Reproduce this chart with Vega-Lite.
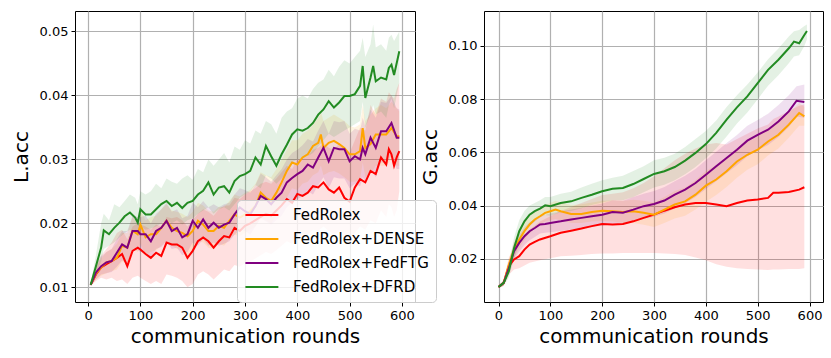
{
"$schema": "https://vega.github.io/schema/vega-lite/v6.json",
"padding": {"left": 10, "top": 10, "right": 5, "bottom": 5},
"bounds": "flush",
"spacing": 69,
"background": "white",
"datasets": {
"L": [
{"m":"FedRolex","r":5,"v":0.0104,"lo":0.0102,"hi":0.0106},
{"m":"FedRolex","r":15,"v":0.0120,"lo":0.0110,"hi":0.0135},
{"m":"FedRolex","r":25,"v":0.0131,"lo":0.0115,"hi":0.0150},
{"m":"FedRolex","r":35,"v":0.0136,"lo":0.0112,"hi":0.0160},
{"m":"FedRolex","r":45,"v":0.0141,"lo":0.0115,"hi":0.0170},
{"m":"FedRolex","r":55,"v":0.0146,"lo":0.0110,"hi":0.0185},
{"m":"FedRolex","r":65,"v":0.0152,"lo":0.0112,"hi":0.0190},
{"m":"FedRolex","r":75,"v":0.0133,"lo":0.0105,"hi":0.0175},
{"m":"FedRolex","r":85,"v":0.0157,"lo":0.0115,"hi":0.0195},
{"m":"FedRolex","r":95,"v":0.0162,"lo":0.0118,"hi":0.0200},
{"m":"FedRolex","r":100,"v":0.0159,"lo":0.0115,"hi":0.0198},
{"m":"FedRolex","r":110,"v":0.0152,"lo":0.0110,"hi":0.0195},
{"m":"FedRolex","r":120,"v":0.0146,"lo":0.0105,"hi":0.0190},
{"m":"FedRolex","r":130,"v":0.0154,"lo":0.0110,"hi":0.0198},
{"m":"FedRolex","r":140,"v":0.0149,"lo":0.0105,"hi":0.0195},
{"m":"FedRolex","r":150,"v":0.0170,"lo":0.0120,"hi":0.0210},
{"m":"FedRolex","r":160,"v":0.0167,"lo":0.0118,"hi":0.0208},
{"m":"FedRolex","r":170,"v":0.0167,"lo":0.0115,"hi":0.0210},
{"m":"FedRolex","r":180,"v":0.0162,"lo":0.0110,"hi":0.0205},
{"m":"FedRolex","r":190,"v":0.0146,"lo":0.0100,"hi":0.0195},
{"m":"FedRolex","r":200,"v":0.0157,"lo":0.0105,"hi":0.0205},
{"m":"FedRolex","r":210,"v":0.0172,"lo":0.0120,"hi":0.0215},
{"m":"FedRolex","r":220,"v":0.0178,"lo":0.0125,"hi":0.0222},
{"m":"FedRolex","r":230,"v":0.0172,"lo":0.0120,"hi":0.0218},
{"m":"FedRolex","r":240,"v":0.0162,"lo":0.0112,"hi":0.0212},
{"m":"FedRolex","r":250,"v":0.0172,"lo":0.0120,"hi":0.0222},
{"m":"FedRolex","r":260,"v":0.0180,"lo":0.0128,"hi":0.0228},
{"m":"FedRolex","r":270,"v":0.0178,"lo":0.0125,"hi":0.0228},
{"m":"FedRolex","r":280,"v":0.0193,"lo":0.0135,"hi":0.0240},
{"m":"FedRolex","r":290,"v":0.0188,"lo":0.0132,"hi":0.0238},
{"m":"FedRolex","r":300,"v":0.0196,"lo":0.0138,"hi":0.0245},
{"m":"FedRolex","r":310,"v":0.0200,"lo":0.0140,"hi":0.0250},
{"m":"FedRolex","r":320,"v":0.0205,"lo":0.0145,"hi":0.0255},
{"m":"FedRolex","r":330,"v":0.0210,"lo":0.0150,"hi":0.0262},
{"m":"FedRolex","r":340,"v":0.0215,"lo":0.0155,"hi":0.0265},
{"m":"FedRolex","r":350,"v":0.0212,"lo":0.0152,"hi":0.0262},
{"m":"FedRolex","r":360,"v":0.0220,"lo":0.0158,"hi":0.0270},
{"m":"FedRolex","r":370,"v":0.0228,"lo":0.0165,"hi":0.0280},
{"m":"FedRolex","r":380,"v":0.0238,"lo":0.0172,"hi":0.0290},
{"m":"FedRolex","r":390,"v":0.0232,"lo":0.0168,"hi":0.0285},
{"m":"FedRolex","r":400,"v":0.0246,"lo":0.0180,"hi":0.0300},
{"m":"FedRolex","r":410,"v":0.0243,"lo":0.0178,"hi":0.0300},
{"m":"FedRolex","r":420,"v":0.0248,"lo":0.0182,"hi":0.0305},
{"m":"FedRolex","r":430,"v":0.0258,"lo":0.0190,"hi":0.0315},
{"m":"FedRolex","r":440,"v":0.0256,"lo":0.0188,"hi":0.0318},
{"m":"FedRolex","r":450,"v":0.0264,"lo":0.0195,"hi":0.0325},
{"m":"FedRolex","r":460,"v":0.0253,"lo":0.0188,"hi":0.0318},
{"m":"FedRolex","r":470,"v":0.0248,"lo":0.0182,"hi":0.0315},
{"m":"FedRolex","r":480,"v":0.0256,"lo":0.0188,"hi":0.0325},
{"m":"FedRolex","r":490,"v":0.0240,"lo":0.0175,"hi":0.0315},
{"m":"FedRolex","r":500,"v":0.0234,"lo":0.0170,"hi":0.0310},
{"m":"FedRolex","r":510,"v":0.0256,"lo":0.0185,"hi":0.0330},
{"m":"FedRolex","r":520,"v":0.0269,"lo":0.0195,"hi":0.0350},
{"m":"FedRolex","r":530,"v":0.0264,"lo":0.0190,"hi":0.0345},
{"m":"FedRolex","r":540,"v":0.0282,"lo":0.0205,"hi":0.0385},
{"m":"FedRolex","r":550,"v":0.0277,"lo":0.0200,"hi":0.0370},
{"m":"FedRolex","r":560,"v":0.0303,"lo":0.0220,"hi":0.0395},
{"m":"FedRolex","r":570,"v":0.0292,"lo":0.0210,"hi":0.0390},
{"m":"FedRolex","r":575,"v":0.0316,"lo":0.0230,"hi":0.0405},
{"m":"FedRolex","r":580,"v":0.0308,"lo":0.0225,"hi":0.0400},
{"m":"FedRolex","r":585,"v":0.0290,"lo":0.0210,"hi":0.0395},
{"m":"FedRolex","r":590,"v":0.0303,"lo":0.0220,"hi":0.0410},
{"m":"FedRolex","r":595,"v":0.0313,"lo":0.0250,"hi":0.0420},
{"m":"FedRolex+DENSE","r":5,"v":0.0104,"lo":0.0102,"hi":0.0106},
{"m":"FedRolex+DENSE","r":15,"v":0.0121,"lo":0.0112,"hi":0.0130},
{"m":"FedRolex+DENSE","r":25,"v":0.0131,"lo":0.0118,"hi":0.0145},
{"m":"FedRolex+DENSE","r":35,"v":0.0139,"lo":0.0122,"hi":0.0155},
{"m":"FedRolex+DENSE","r":45,"v":0.0141,"lo":0.0125,"hi":0.0160},
{"m":"FedRolex+DENSE","r":55,"v":0.0146,"lo":0.0128,"hi":0.0168},
{"m":"FedRolex+DENSE","r":65,"v":0.0165,"lo":0.0140,"hi":0.0185},
{"m":"FedRolex+DENSE","r":75,"v":0.0162,"lo":0.0138,"hi":0.0185},
{"m":"FedRolex+DENSE","r":85,"v":0.0188,"lo":0.0160,"hi":0.0210},
{"m":"FedRolex+DENSE","r":95,"v":0.0183,"lo":0.0155,"hi":0.0205},
{"m":"FedRolex+DENSE","r":100,"v":0.0198,"lo":0.0168,"hi":0.0222},
{"m":"FedRolex+DENSE","r":110,"v":0.0178,"lo":0.0150,"hi":0.0205},
{"m":"FedRolex+DENSE","r":120,"v":0.0183,"lo":0.0155,"hi":0.0210},
{"m":"FedRolex+DENSE","r":130,"v":0.0183,"lo":0.0158,"hi":0.0212},
{"m":"FedRolex+DENSE","r":140,"v":0.0193,"lo":0.0165,"hi":0.0222},
{"m":"FedRolex+DENSE","r":150,"v":0.0204,"lo":0.0172,"hi":0.0230},
{"m":"FedRolex+DENSE","r":160,"v":0.0193,"lo":0.0165,"hi":0.0220},
{"m":"FedRolex+DENSE","r":170,"v":0.0188,"lo":0.0160,"hi":0.0218},
{"m":"FedRolex+DENSE","r":180,"v":0.0185,"lo":0.0158,"hi":0.0215},
{"m":"FedRolex+DENSE","r":190,"v":0.0180,"lo":0.0150,"hi":0.0210},
{"m":"FedRolex+DENSE","r":200,"v":0.0188,"lo":0.0160,"hi":0.0218},
{"m":"FedRolex+DENSE","r":210,"v":0.0204,"lo":0.0172,"hi":0.0232},
{"m":"FedRolex+DENSE","r":220,"v":0.0198,"lo":0.0170,"hi":0.0228},
{"m":"FedRolex+DENSE","r":230,"v":0.0188,"lo":0.0162,"hi":0.0220},
{"m":"FedRolex+DENSE","r":240,"v":0.0188,"lo":0.0160,"hi":0.0218},
{"m":"FedRolex+DENSE","r":250,"v":0.0196,"lo":0.0168,"hi":0.0226},
{"m":"FedRolex+DENSE","r":260,"v":0.0193,"lo":0.0165,"hi":0.0225},
{"m":"FedRolex+DENSE","r":270,"v":0.0204,"lo":0.0175,"hi":0.0235},
{"m":"FedRolex+DENSE","r":280,"v":0.0214,"lo":0.0182,"hi":0.0245},
{"m":"FedRolex+DENSE","r":290,"v":0.0209,"lo":0.0180,"hi":0.0242},
{"m":"FedRolex+DENSE","r":300,"v":0.0214,"lo":0.0185,"hi":0.0248},
{"m":"FedRolex+DENSE","r":310,"v":0.0219,"lo":0.0190,"hi":0.0252},
{"m":"FedRolex+DENSE","r":320,"v":0.0227,"lo":0.0195,"hi":0.0262},
{"m":"FedRolex+DENSE","r":330,"v":0.0248,"lo":0.0210,"hi":0.0280},
{"m":"FedRolex+DENSE","r":340,"v":0.0240,"lo":0.0205,"hi":0.0275},
{"m":"FedRolex+DENSE","r":350,"v":0.0235,"lo":0.0200,"hi":0.0272},
{"m":"FedRolex+DENSE","r":360,"v":0.0248,"lo":0.0212,"hi":0.0285},
{"m":"FedRolex+DENSE","r":370,"v":0.0264,"lo":0.0225,"hi":0.0300},
{"m":"FedRolex+DENSE","r":380,"v":0.0282,"lo":0.0240,"hi":0.0315},
{"m":"FedRolex+DENSE","r":390,"v":0.0295,"lo":0.0255,"hi":0.0330},
{"m":"FedRolex+DENSE","r":400,"v":0.0292,"lo":0.0252,"hi":0.0330},
{"m":"FedRolex+DENSE","r":410,"v":0.0303,"lo":0.0262,"hi":0.0340},
{"m":"FedRolex+DENSE","r":420,"v":0.0308,"lo":0.0265,"hi":0.0345},
{"m":"FedRolex+DENSE","r":430,"v":0.0321,"lo":0.0275,"hi":0.0355},
{"m":"FedRolex+DENSE","r":440,"v":0.0326,"lo":0.0280,"hi":0.0365},
{"m":"FedRolex+DENSE","r":445,"v":0.0339,"lo":0.0290,"hi":0.0375},
{"m":"FedRolex+DENSE","r":450,"v":0.0318,"lo":0.0275,"hi":0.0360},
{"m":"FedRolex+DENSE","r":460,"v":0.0326,"lo":0.0280,"hi":0.0365},
{"m":"FedRolex+DENSE","r":470,"v":0.0329,"lo":0.0282,"hi":0.0370},
{"m":"FedRolex+DENSE","r":480,"v":0.0324,"lo":0.0278,"hi":0.0365},
{"m":"FedRolex+DENSE","r":490,"v":0.0318,"lo":0.0272,"hi":0.0360},
{"m":"FedRolex+DENSE","r":500,"v":0.0308,"lo":0.0265,"hi":0.0352},
{"m":"FedRolex+DENSE","r":510,"v":0.0308,"lo":0.0265,"hi":0.0350},
{"m":"FedRolex+DENSE","r":520,"v":0.0313,"lo":0.0268,"hi":0.0355},
{"m":"FedRolex+DENSE","r":525,"v":0.0349,"lo":0.0295,"hi":0.0385},
{"m":"FedRolex+DENSE","r":530,"v":0.0318,"lo":0.0272,"hi":0.0360},
{"m":"FedRolex+DENSE","r":540,"v":0.0324,"lo":0.0278,"hi":0.0370},
{"m":"FedRolex+DENSE","r":550,"v":0.0339,"lo":0.0290,"hi":0.0380},
{"m":"FedRolex+DENSE","r":560,"v":0.0339,"lo":0.0290,"hi":0.0385},
{"m":"FedRolex+DENSE","r":570,"v":0.0339,"lo":0.0290,"hi":0.0380},
{"m":"FedRolex+DENSE","r":580,"v":0.0349,"lo":0.0300,"hi":0.0390},
{"m":"FedRolex+DENSE","r":590,"v":0.0336,"lo":0.0290,"hi":0.0380},
{"m":"FedRolex+DENSE","r":595,"v":0.0336,"lo":0.0290,"hi":0.0375},
{"m":"FedRolex+FedFTG","r":5,"v":0.0104,"lo":0.0102,"hi":0.0106},
{"m":"FedRolex+FedFTG","r":15,"v":0.0123,"lo":0.0112,"hi":0.0132},
{"m":"FedRolex+FedFTG","r":25,"v":0.0133,"lo":0.0120,"hi":0.0148},
{"m":"FedRolex+FedFTG","r":35,"v":0.0139,"lo":0.0122,"hi":0.0155},
{"m":"FedRolex+FedFTG","r":45,"v":0.0141,"lo":0.0124,"hi":0.0160},
{"m":"FedRolex+FedFTG","r":55,"v":0.0154,"lo":0.0132,"hi":0.0175},
{"m":"FedRolex+FedFTG","r":65,"v":0.0167,"lo":0.0142,"hi":0.0188},
{"m":"FedRolex+FedFTG","r":75,"v":0.0162,"lo":0.0138,"hi":0.0188},
{"m":"FedRolex+FedFTG","r":85,"v":0.0188,"lo":0.0158,"hi":0.0212},
{"m":"FedRolex+FedFTG","r":95,"v":0.0188,"lo":0.0158,"hi":0.0210},
{"m":"FedRolex+FedFTG","r":100,"v":0.0183,"lo":0.0155,"hi":0.0210},
{"m":"FedRolex+FedFTG","r":110,"v":0.0183,"lo":0.0155,"hi":0.0212},
{"m":"FedRolex+FedFTG","r":120,"v":0.0172,"lo":0.0145,"hi":0.0200},
{"m":"FedRolex+FedFTG","r":130,"v":0.0188,"lo":0.0160,"hi":0.0215},
{"m":"FedRolex+FedFTG","r":140,"v":0.0193,"lo":0.0163,"hi":0.0222},
{"m":"FedRolex+FedFTG","r":150,"v":0.0204,"lo":0.0172,"hi":0.0232},
{"m":"FedRolex+FedFTG","r":160,"v":0.0188,"lo":0.0160,"hi":0.0218},
{"m":"FedRolex+FedFTG","r":170,"v":0.0193,"lo":0.0162,"hi":0.0222},
{"m":"FedRolex+FedFTG","r":180,"v":0.0178,"lo":0.0150,"hi":0.0208},
{"m":"FedRolex+FedFTG","r":190,"v":0.0183,"lo":0.0155,"hi":0.0212},
{"m":"FedRolex+FedFTG","r":200,"v":0.0204,"lo":0.0170,"hi":0.0232},
{"m":"FedRolex+FedFTG","r":210,"v":0.0193,"lo":0.0165,"hi":0.0225},
{"m":"FedRolex+FedFTG","r":220,"v":0.0206,"lo":0.0175,"hi":0.0235},
{"m":"FedRolex+FedFTG","r":230,"v":0.0193,"lo":0.0165,"hi":0.0225},
{"m":"FedRolex+FedFTG","r":240,"v":0.0201,"lo":0.0170,"hi":0.0230},
{"m":"FedRolex+FedFTG","r":250,"v":0.0193,"lo":0.0165,"hi":0.0225},
{"m":"FedRolex+FedFTG","r":260,"v":0.0198,"lo":0.0168,"hi":0.0230},
{"m":"FedRolex+FedFTG","r":270,"v":0.0201,"lo":0.0172,"hi":0.0232},
{"m":"FedRolex+FedFTG","r":280,"v":0.0214,"lo":0.0182,"hi":0.0245},
{"m":"FedRolex+FedFTG","r":290,"v":0.0225,"lo":0.0190,"hi":0.0255},
{"m":"FedRolex+FedFTG","r":300,"v":0.0219,"lo":0.0188,"hi":0.0252},
{"m":"FedRolex+FedFTG","r":310,"v":0.0214,"lo":0.0182,"hi":0.0248},
{"m":"FedRolex+FedFTG","r":320,"v":0.0227,"lo":0.0195,"hi":0.0260},
{"m":"FedRolex+FedFTG","r":330,"v":0.0243,"lo":0.0208,"hi":0.0278},
{"m":"FedRolex+FedFTG","r":340,"v":0.0238,"lo":0.0203,"hi":0.0272},
{"m":"FedRolex+FedFTG","r":350,"v":0.0230,"lo":0.0198,"hi":0.0265},
{"m":"FedRolex+FedFTG","r":360,"v":0.0240,"lo":0.0205,"hi":0.0275},
{"m":"FedRolex+FedFTG","r":370,"v":0.0248,"lo":0.0212,"hi":0.0285},
{"m":"FedRolex+FedFTG","r":380,"v":0.0264,"lo":0.0225,"hi":0.0300},
{"m":"FedRolex+FedFTG","r":390,"v":0.0271,"lo":0.0232,"hi":0.0310},
{"m":"FedRolex+FedFTG","r":400,"v":0.0277,"lo":0.0238,"hi":0.0315},
{"m":"FedRolex+FedFTG","r":410,"v":0.0282,"lo":0.0242,"hi":0.0322},
{"m":"FedRolex+FedFTG","r":420,"v":0.0292,"lo":0.0250,"hi":0.0332},
{"m":"FedRolex+FedFTG","r":430,"v":0.0287,"lo":0.0245,"hi":0.0328},
{"m":"FedRolex+FedFTG","r":440,"v":0.0303,"lo":0.0260,"hi":0.0345},
{"m":"FedRolex+FedFTG","r":450,"v":0.0318,"lo":0.0272,"hi":0.0360},
{"m":"FedRolex+FedFTG","r":460,"v":0.0297,"lo":0.0255,"hi":0.0340},
{"m":"FedRolex+FedFTG","r":470,"v":0.0318,"lo":0.0272,"hi":0.0360},
{"m":"FedRolex+FedFTG","r":480,"v":0.0316,"lo":0.0270,"hi":0.0358},
{"m":"FedRolex+FedFTG","r":490,"v":0.0316,"lo":0.0270,"hi":0.0360},
{"m":"FedRolex+FedFTG","r":500,"v":0.0297,"lo":0.0255,"hi":0.0340},
{"m":"FedRolex+FedFTG","r":510,"v":0.0305,"lo":0.0262,"hi":0.0348},
{"m":"FedRolex+FedFTG","r":520,"v":0.0300,"lo":0.0258,"hi":0.0345},
{"m":"FedRolex+FedFTG","r":525,"v":0.0318,"lo":0.0272,"hi":0.0365},
{"m":"FedRolex+FedFTG","r":530,"v":0.0308,"lo":0.0265,"hi":0.0352},
{"m":"FedRolex+FedFTG","r":540,"v":0.0334,"lo":0.0285,"hi":0.0378},
{"m":"FedRolex+FedFTG","r":550,"v":0.0318,"lo":0.0272,"hi":0.0365},
{"m":"FedRolex+FedFTG","r":560,"v":0.0344,"lo":0.0295,"hi":0.0390},
{"m":"FedRolex+FedFTG","r":570,"v":0.0344,"lo":0.0295,"hi":0.0388},
{"m":"FedRolex+FedFTG","r":580,"v":0.0357,"lo":0.0305,"hi":0.0400},
{"m":"FedRolex+FedFTG","r":590,"v":0.0334,"lo":0.0285,"hi":0.0380},
{"m":"FedRolex+FedFTG","r":595,"v":0.0334,"lo":0.0285,"hi":0.0378},
{"m":"FedRolex+DFRD","r":5,"v":0.0104,"lo":0.0102,"hi":0.0106},
{"m":"FedRolex+DFRD","r":15,"v":0.0133,"lo":0.0122,"hi":0.0150},
{"m":"FedRolex+DFRD","r":25,"v":0.0162,"lo":0.0140,"hi":0.0200},
{"m":"FedRolex+DFRD","r":30,"v":0.0189,"lo":0.0160,"hi":0.0215},
{"m":"FedRolex+DFRD","r":40,"v":0.0183,"lo":0.0165,"hi":0.0205},
{"m":"FedRolex+DFRD","r":50,"v":0.0193,"lo":0.0170,"hi":0.0230},
{"m":"FedRolex+DFRD","r":60,"v":0.0201,"lo":0.0178,"hi":0.0225},
{"m":"FedRolex+DFRD","r":70,"v":0.0211,"lo":0.0185,"hi":0.0235},
{"m":"FedRolex+DFRD","r":80,"v":0.0217,"lo":0.0190,"hi":0.0245},
{"m":"FedRolex+DFRD","r":90,"v":0.0209,"lo":0.0185,"hi":0.0240},
{"m":"FedRolex+DFRD","r":95,"v":0.0201,"lo":0.0180,"hi":0.0230},
{"m":"FedRolex+DFRD","r":100,"v":0.0222,"lo":0.0195,"hi":0.0250},
{"m":"FedRolex+DFRD","r":110,"v":0.0214,"lo":0.0190,"hi":0.0245},
{"m":"FedRolex+DFRD","r":120,"v":0.0214,"lo":0.0192,"hi":0.0250},
{"m":"FedRolex+DFRD","r":130,"v":0.0222,"lo":0.0195,"hi":0.0262},
{"m":"FedRolex+DFRD","r":140,"v":0.0230,"lo":0.0200,"hi":0.0255},
{"m":"FedRolex+DFRD","r":150,"v":0.0235,"lo":0.0205,"hi":0.0270},
{"m":"FedRolex+DFRD","r":160,"v":0.0227,"lo":0.0200,"hi":0.0265},
{"m":"FedRolex+DFRD","r":170,"v":0.0232,"lo":0.0205,"hi":0.0262},
{"m":"FedRolex+DFRD","r":180,"v":0.0224,"lo":0.0198,"hi":0.0270},
{"m":"FedRolex+DFRD","r":190,"v":0.0232,"lo":0.0205,"hi":0.0275},
{"m":"FedRolex+DFRD","r":200,"v":0.0235,"lo":0.0208,"hi":0.0268},
{"m":"FedRolex+DFRD","r":210,"v":0.0245,"lo":0.0215,"hi":0.0285},
{"m":"FedRolex+DFRD","r":220,"v":0.0251,"lo":0.0220,"hi":0.0280},
{"m":"FedRolex+DFRD","r":230,"v":0.0264,"lo":0.0225,"hi":0.0300},
{"m":"FedRolex+DFRD","r":240,"v":0.0245,"lo":0.0215,"hi":0.0290},
{"m":"FedRolex+DFRD","r":250,"v":0.0256,"lo":0.0222,"hi":0.0300},
{"m":"FedRolex+DFRD","r":260,"v":0.0258,"lo":0.0225,"hi":0.0310},
{"m":"FedRolex+DFRD","r":270,"v":0.0248,"lo":0.0220,"hi":0.0295},
{"m":"FedRolex+DFRD","r":280,"v":0.0266,"lo":0.0230,"hi":0.0320},
{"m":"FedRolex+DFRD","r":290,"v":0.0274,"lo":0.0240,"hi":0.0315},
{"m":"FedRolex+DFRD","r":300,"v":0.0277,"lo":0.0245,"hi":0.0330},
{"m":"FedRolex+DFRD","r":310,"v":0.0282,"lo":0.0250,"hi":0.0325},
{"m":"FedRolex+DFRD","r":320,"v":0.0303,"lo":0.0260,"hi":0.0345},
{"m":"FedRolex+DFRD","r":330,"v":0.0292,"lo":0.0255,"hi":0.0340},
{"m":"FedRolex+DFRD","r":340,"v":0.0321,"lo":0.0275,"hi":0.0360},
{"m":"FedRolex+DFRD","r":350,"v":0.0305,"lo":0.0270,"hi":0.0355},
{"m":"FedRolex+DFRD","r":360,"v":0.0290,"lo":0.0262,"hi":0.0340},
{"m":"FedRolex+DFRD","r":370,"v":0.0308,"lo":0.0270,"hi":0.0365},
{"m":"FedRolex+DFRD","r":380,"v":0.0323,"lo":0.0280,"hi":0.0375},
{"m":"FedRolex+DFRD","r":390,"v":0.0339,"lo":0.0295,"hi":0.0380},
{"m":"FedRolex+DFRD","r":400,"v":0.0347,"lo":0.0300,"hi":0.0395},
{"m":"FedRolex+DFRD","r":410,"v":0.0345,"lo":0.0300,"hi":0.0400},
{"m":"FedRolex+DFRD","r":420,"v":0.0349,"lo":0.0305,"hi":0.0395},
{"m":"FedRolex+DFRD","r":430,"v":0.0357,"lo":0.0310,"hi":0.0410},
{"m":"FedRolex+DFRD","r":440,"v":0.0370,"lo":0.0320,"hi":0.0420},
{"m":"FedRolex+DFRD","r":450,"v":0.0378,"lo":0.0330,"hi":0.0425},
{"m":"FedRolex+DFRD","r":460,"v":0.0391,"lo":0.0340,"hi":0.0440},
{"m":"FedRolex+DFRD","r":470,"v":0.0381,"lo":0.0335,"hi":0.0430},
{"m":"FedRolex+DFRD","r":480,"v":0.0389,"lo":0.0340,"hi":0.0445},
{"m":"FedRolex+DFRD","r":490,"v":0.0399,"lo":0.0345,"hi":0.0455},
{"m":"FedRolex+DFRD","r":500,"v":0.0399,"lo":0.0350,"hi":0.0450},
{"m":"FedRolex+DFRD","r":510,"v":0.0402,"lo":0.0355,"hi":0.0460},
{"m":"FedRolex+DFRD","r":520,"v":0.0415,"lo":0.0360,"hi":0.0470},
{"m":"FedRolex+DFRD","r":525,"v":0.0446,"lo":0.0390,"hi":0.0490},
{"m":"FedRolex+DFRD","r":530,"v":0.0396,"lo":0.0350,"hi":0.0460},
{"m":"FedRolex+DFRD","r":540,"v":0.0428,"lo":0.0370,"hi":0.0480},
{"m":"FedRolex+DFRD","r":545,"v":0.0446,"lo":0.0385,"hi":0.0511},
{"m":"FedRolex+DFRD","r":550,"v":0.0422,"lo":0.0370,"hi":0.0475},
{"m":"FedRolex+DFRD","r":560,"v":0.0428,"lo":0.0375,"hi":0.0480},
{"m":"FedRolex+DFRD","r":570,"v":0.0425,"lo":0.0365,"hi":0.0470},
{"m":"FedRolex+DFRD","r":575,"v":0.0443,"lo":0.0385,"hi":0.0490},
{"m":"FedRolex+DFRD","r":580,"v":0.0448,"lo":0.0395,"hi":0.0495},
{"m":"FedRolex+DFRD","r":585,"v":0.0432,"lo":0.0380,"hi":0.0485},
{"m":"FedRolex+DFRD","r":595,"v":0.0469,"lo":0.0420,"hi":0.0500}
],
"G": [
{"m":"FedRolex","r":0,"v":0.0094,"lo":0.0090,"hi":0.0098},
{"m":"FedRolex","r":10,"v":0.0110,"lo":0.0098,"hi":0.0122},
{"m":"FedRolex","r":20,"v":0.0173,"lo":0.0140,"hi":0.0205},
{"m":"FedRolex","r":30,"v":0.0198,"lo":0.0160,"hi":0.0240},
{"m":"FedRolex","r":40,"v":0.0210,"lo":0.0165,"hi":0.0262},
{"m":"FedRolex","r":50,"v":0.0235,"lo":0.0175,"hi":0.0290},
{"m":"FedRolex","r":60,"v":0.0254,"lo":0.0185,"hi":0.0310},
{"m":"FedRolex","r":70,"v":0.0264,"lo":0.0190,"hi":0.0325},
{"m":"FedRolex","r":80,"v":0.0273,"lo":0.0195,"hi":0.0340},
{"m":"FedRolex","r":100,"v":0.0285,"lo":0.0202,"hi":0.0360},
{"m":"FedRolex","r":120,"v":0.0298,"lo":0.0210,"hi":0.0380},
{"m":"FedRolex","r":140,"v":0.0306,"lo":0.0212,"hi":0.0395},
{"m":"FedRolex","r":160,"v":0.0314,"lo":0.0215,"hi":0.0410},
{"m":"FedRolex","r":180,"v":0.0323,"lo":0.0218,"hi":0.0425},
{"m":"FedRolex","r":200,"v":0.0331,"lo":0.0220,"hi":0.0440},
{"m":"FedRolex","r":220,"v":0.0329,"lo":0.0220,"hi":0.0445},
{"m":"FedRolex","r":240,"v":0.0331,"lo":0.0222,"hi":0.0450},
{"m":"FedRolex","r":260,"v":0.0341,"lo":0.0222,"hi":0.0465},
{"m":"FedRolex","r":280,"v":0.0354,"lo":0.0222,"hi":0.0485},
{"m":"FedRolex","r":300,"v":0.0366,"lo":0.0222,"hi":0.0510},
{"m":"FedRolex","r":320,"v":0.0381,"lo":0.0220,"hi":0.0540},
{"m":"FedRolex","r":340,"v":0.0394,"lo":0.0218,"hi":0.0570},
{"m":"FedRolex","r":360,"v":0.0404,"lo":0.0215,"hi":0.0595},
{"m":"FedRolex","r":380,"v":0.0410,"lo":0.0205,"hi":0.0615},
{"m":"FedRolex","r":400,"v":0.0410,"lo":0.0195,"hi":0.0630},
{"m":"FedRolex","r":420,"v":0.0404,"lo":0.0180,"hi":0.0635},
{"m":"FedRolex","r":440,"v":0.0398,"lo":0.0170,"hi":0.0630},
{"m":"FedRolex","r":460,"v":0.0410,"lo":0.0165,"hi":0.0650},
{"m":"FedRolex","r":480,"v":0.0419,"lo":0.0162,"hi":0.0670},
{"m":"FedRolex","r":500,"v":0.0423,"lo":0.0160,"hi":0.0690},
{"m":"FedRolex","r":520,"v":0.0429,"lo":0.0158,"hi":0.0705},
{"m":"FedRolex","r":530,"v":0.0448,"lo":0.0160,"hi":0.0725},
{"m":"FedRolex","r":540,"v":0.0448,"lo":0.0160,"hi":0.0735},
{"m":"FedRolex","r":560,"v":0.0451,"lo":0.0162,"hi":0.0755},
{"m":"FedRolex","r":580,"v":0.0460,"lo":0.0162,"hi":0.0775},
{"m":"FedRolex","r":590,"v":0.0469,"lo":0.0165,"hi":0.0780},
{"m":"FedRolex+DENSE","r":0,"v":0.0094,"lo":0.0090,"hi":0.0098},
{"m":"FedRolex+DENSE","r":10,"v":0.0110,"lo":0.0100,"hi":0.0120},
{"m":"FedRolex+DENSE","r":20,"v":0.0179,"lo":0.0155,"hi":0.0200},
{"m":"FedRolex+DENSE","r":30,"v":0.0235,"lo":0.0205,"hi":0.0265},
{"m":"FedRolex+DENSE","r":40,"v":0.0273,"lo":0.0240,"hi":0.0305},
{"m":"FedRolex+DENSE","r":50,"v":0.0304,"lo":0.0270,"hi":0.0335},
{"m":"FedRolex+DENSE","r":60,"v":0.0329,"lo":0.0295,"hi":0.0360},
{"m":"FedRolex+DENSE","r":70,"v":0.0348,"lo":0.0315,"hi":0.0378},
{"m":"FedRolex+DENSE","r":80,"v":0.0360,"lo":0.0328,"hi":0.0390},
{"m":"FedRolex+DENSE","r":90,"v":0.0373,"lo":0.0340,"hi":0.0402},
{"m":"FedRolex+DENSE","r":100,"v":0.0379,"lo":0.0345,"hi":0.0410},
{"m":"FedRolex+DENSE","r":110,"v":0.0385,"lo":0.0350,"hi":0.0418},
{"m":"FedRolex+DENSE","r":120,"v":0.0379,"lo":0.0345,"hi":0.0412},
{"m":"FedRolex+DENSE","r":140,"v":0.0369,"lo":0.0335,"hi":0.0402},
{"m":"FedRolex+DENSE","r":160,"v":0.0369,"lo":0.0335,"hi":0.0405},
{"m":"FedRolex+DENSE","r":180,"v":0.0376,"lo":0.0340,"hi":0.0412},
{"m":"FedRolex+DENSE","r":200,"v":0.0381,"lo":0.0342,"hi":0.0418},
{"m":"FedRolex+DENSE","r":220,"v":0.0379,"lo":0.0340,"hi":0.0420},
{"m":"FedRolex+DENSE","r":240,"v":0.0376,"lo":0.0335,"hi":0.0418},
{"m":"FedRolex+DENSE","r":260,"v":0.0379,"lo":0.0335,"hi":0.0422},
{"m":"FedRolex+DENSE","r":280,"v":0.0373,"lo":0.0328,"hi":0.0418},
{"m":"FedRolex+DENSE","r":300,"v":0.0366,"lo":0.0320,"hi":0.0412},
{"m":"FedRolex+DENSE","r":320,"v":0.0385,"lo":0.0335,"hi":0.0432},
{"m":"FedRolex+DENSE","r":340,"v":0.0404,"lo":0.0352,"hi":0.0455},
{"m":"FedRolex+DENSE","r":360,"v":0.0416,"lo":0.0362,"hi":0.0468},
{"m":"FedRolex+DENSE","r":380,"v":0.0441,"lo":0.0385,"hi":0.0495},
{"m":"FedRolex+DENSE","r":400,"v":0.0475,"lo":0.0415,"hi":0.0530},
{"m":"FedRolex+DENSE","r":420,"v":0.0498,"lo":0.0440,"hi":0.0552},
{"m":"FedRolex+DENSE","r":440,"v":0.0529,"lo":0.0470,"hi":0.0580},
{"m":"FedRolex+DENSE","r":460,"v":0.0566,"lo":0.0505,"hi":0.0615},
{"m":"FedRolex+DENSE","r":480,"v":0.0591,"lo":0.0535,"hi":0.0640},
{"m":"FedRolex+DENSE","r":500,"v":0.0610,"lo":0.0555,"hi":0.0660},
{"m":"FedRolex+DENSE","r":520,"v":0.0641,"lo":0.0588,"hi":0.0690},
{"m":"FedRolex+DENSE","r":540,"v":0.0666,"lo":0.0615,"hi":0.0712},
{"m":"FedRolex+DENSE","r":560,"v":0.0704,"lo":0.0655,"hi":0.0748},
{"m":"FedRolex+DENSE","r":580,"v":0.0748,"lo":0.0700,"hi":0.0785},
{"m":"FedRolex+DENSE","r":590,"v":0.0735,"lo":0.0700,"hi":0.0770},
{"m":"FedRolex+FedFTG","r":0,"v":0.0094,"lo":0.0090,"hi":0.0098},
{"m":"FedRolex+FedFTG","r":10,"v":0.0110,"lo":0.0100,"hi":0.0120},
{"m":"FedRolex+FedFTG","r":20,"v":0.0166,"lo":0.0145,"hi":0.0190},
{"m":"FedRolex+FedFTG","r":30,"v":0.0229,"lo":0.0200,"hi":0.0260},
{"m":"FedRolex+FedFTG","r":40,"v":0.0260,"lo":0.0228,"hi":0.0292},
{"m":"FedRolex+FedFTG","r":50,"v":0.0285,"lo":0.0252,"hi":0.0318},
{"m":"FedRolex+FedFTG","r":60,"v":0.0304,"lo":0.0270,"hi":0.0338},
{"m":"FedRolex+FedFTG","r":70,"v":0.0316,"lo":0.0282,"hi":0.0350},
{"m":"FedRolex+FedFTG","r":80,"v":0.0329,"lo":0.0295,"hi":0.0362},
{"m":"FedRolex+FedFTG","r":90,"v":0.0331,"lo":0.0298,"hi":0.0365},
{"m":"FedRolex+FedFTG","r":100,"v":0.0335,"lo":0.0300,"hi":0.0370},
{"m":"FedRolex+FedFTG","r":120,"v":0.0341,"lo":0.0305,"hi":0.0378},
{"m":"FedRolex+FedFTG","r":140,"v":0.0348,"lo":0.0310,"hi":0.0385},
{"m":"FedRolex+FedFTG","r":160,"v":0.0354,"lo":0.0315,"hi":0.0392},
{"m":"FedRolex+FedFTG","r":180,"v":0.0360,"lo":0.0320,"hi":0.0400},
{"m":"FedRolex+FedFTG","r":200,"v":0.0366,"lo":0.0325,"hi":0.0408},
{"m":"FedRolex+FedFTG","r":220,"v":0.0376,"lo":0.0333,"hi":0.0420},
{"m":"FedRolex+FedFTG","r":240,"v":0.0373,"lo":0.0330,"hi":0.0418},
{"m":"FedRolex+FedFTG","r":260,"v":0.0385,"lo":0.0340,"hi":0.0432},
{"m":"FedRolex+FedFTG","r":280,"v":0.0398,"lo":0.0350,"hi":0.0445},
{"m":"FedRolex+FedFTG","r":300,"v":0.0406,"lo":0.0358,"hi":0.0455},
{"m":"FedRolex+FedFTG","r":320,"v":0.0419,"lo":0.0370,"hi":0.0470},
{"m":"FedRolex+FedFTG","r":340,"v":0.0441,"lo":0.0390,"hi":0.0492},
{"m":"FedRolex+FedFTG","r":360,"v":0.0460,"lo":0.0408,"hi":0.0512},
{"m":"FedRolex+FedFTG","r":380,"v":0.0485,"lo":0.0432,"hi":0.0538},
{"m":"FedRolex+FedFTG","r":400,"v":0.0516,"lo":0.0462,"hi":0.0570},
{"m":"FedRolex+FedFTG","r":420,"v":0.0548,"lo":0.0492,"hi":0.0602},
{"m":"FedRolex+FedFTG","r":440,"v":0.0579,"lo":0.0522,"hi":0.0635},
{"m":"FedRolex+FedFTG","r":460,"v":0.0610,"lo":0.0552,"hi":0.0665},
{"m":"FedRolex+FedFTG","r":480,"v":0.0644,"lo":0.0585,"hi":0.0700},
{"m":"FedRolex+FedFTG","r":500,"v":0.0666,"lo":0.0608,"hi":0.0722},
{"m":"FedRolex+FedFTG","r":520,"v":0.0685,"lo":0.0628,"hi":0.0745},
{"m":"FedRolex+FedFTG","r":540,"v":0.0716,"lo":0.0658,"hi":0.0778},
{"m":"FedRolex+FedFTG","r":560,"v":0.0754,"lo":0.0695,"hi":0.0815},
{"m":"FedRolex+FedFTG","r":575,"v":0.0794,"lo":0.0735,"hi":0.0848},
{"m":"FedRolex+FedFTG","r":590,"v":0.0789,"lo":0.0730,"hi":0.0855},
{"m":"FedRolex+DFRD","r":0,"v":0.0094,"lo":0.0090,"hi":0.0098},
{"m":"FedRolex+DFRD","r":10,"v":0.0110,"lo":0.0100,"hi":0.0120},
{"m":"FedRolex+DFRD","r":20,"v":0.0154,"lo":0.0130,"hi":0.0180},
{"m":"FedRolex+DFRD","r":30,"v":0.0241,"lo":0.0200,"hi":0.0280},
{"m":"FedRolex+DFRD","r":40,"v":0.0304,"lo":0.0260,"hi":0.0345},
{"m":"FedRolex+DFRD","r":50,"v":0.0341,"lo":0.0300,"hi":0.0380},
{"m":"FedRolex+DFRD","r":60,"v":0.0366,"lo":0.0325,"hi":0.0400},
{"m":"FedRolex+DFRD","r":70,"v":0.0379,"lo":0.0340,"hi":0.0410},
{"m":"FedRolex+DFRD","r":80,"v":0.0389,"lo":0.0355,"hi":0.0420},
{"m":"FedRolex+DFRD","r":90,"v":0.0401,"lo":0.0365,"hi":0.0432},
{"m":"FedRolex+DFRD","r":100,"v":0.0398,"lo":0.0362,"hi":0.0432},
{"m":"FedRolex+DFRD","r":120,"v":0.0410,"lo":0.0375,"hi":0.0445},
{"m":"FedRolex+DFRD","r":140,"v":0.0416,"lo":0.0380,"hi":0.0452},
{"m":"FedRolex+DFRD","r":160,"v":0.0429,"lo":0.0390,"hi":0.0468},
{"m":"FedRolex+DFRD","r":180,"v":0.0441,"lo":0.0402,"hi":0.0482},
{"m":"FedRolex+DFRD","r":200,"v":0.0454,"lo":0.0412,"hi":0.0495},
{"m":"FedRolex+DFRD","r":220,"v":0.0463,"lo":0.0420,"hi":0.0505},
{"m":"FedRolex+DFRD","r":240,"v":0.0466,"lo":0.0420,"hi":0.0512},
{"m":"FedRolex+DFRD","r":260,"v":0.0481,"lo":0.0432,"hi":0.0530},
{"m":"FedRolex+DFRD","r":280,"v":0.0500,"lo":0.0450,"hi":0.0548},
{"m":"FedRolex+DFRD","r":300,"v":0.0519,"lo":0.0468,"hi":0.0570},
{"m":"FedRolex+DFRD","r":320,"v":0.0529,"lo":0.0478,"hi":0.0580},
{"m":"FedRolex+DFRD","r":340,"v":0.0545,"lo":0.0495,"hi":0.0595},
{"m":"FedRolex+DFRD","r":360,"v":0.0569,"lo":0.0518,"hi":0.0620},
{"m":"FedRolex+DFRD","r":380,"v":0.0598,"lo":0.0545,"hi":0.0650},
{"m":"FedRolex+DFRD","r":400,"v":0.0631,"lo":0.0578,"hi":0.0680},
{"m":"FedRolex+DFRD","r":420,"v":0.0673,"lo":0.0615,"hi":0.0720},
{"m":"FedRolex+DFRD","r":440,"v":0.0723,"lo":0.0660,"hi":0.0770},
{"m":"FedRolex+DFRD","r":460,"v":0.0769,"lo":0.0708,"hi":0.0815},
{"m":"FedRolex+DFRD","r":480,"v":0.0810,"lo":0.0750,"hi":0.0855},
{"m":"FedRolex+DFRD","r":500,"v":0.0860,"lo":0.0800,"hi":0.0900},
{"m":"FedRolex+DFRD","r":520,"v":0.0910,"lo":0.0850,"hi":0.0950},
{"m":"FedRolex+DFRD","r":540,"v":0.0948,"lo":0.0890,"hi":0.0990},
{"m":"FedRolex+DFRD","r":560,"v":0.0991,"lo":0.0935,"hi":0.1035},
{"m":"FedRolex+DFRD","r":570,"v":0.1016,"lo":0.0960,"hi":0.1055},
{"m":"FedRolex+DFRD","r":580,"v":0.1010,"lo":0.0965,"hi":0.1060},
{"m":"FedRolex+DFRD","r":590,"v":0.1041,"lo":0.1000,"hi":0.1075},
{"m":"FedRolex+DFRD","r":595,"v":0.1056,"lo":0.1025,"hi":0.1080}
]
},
"hconcat": [
{
"width": 340, "height": 291,
"data": {"name": "L"},
"encoding": {
"x": {"field": "r", "type": "quantitative", "scale": {"domain": [-25, 625], "nice": false, "zero": false}, "axis": {"values": [0,100,200,300,400,500,600], "title": "communication rounds"}}
},
"layer": [
{"mark": {"type": "area", "fillOpacity": 0.12},
 "encoding": {
 "y": {"field": "lo", "type": "quantitative", "scale": {"domain": [0.0077, 0.0532], "nice": false, "zero": false}, "axis": {"values": [0.01,0.02,0.03,0.04,0.05], "format": ".2f", "title": "L.acc"}},
 "y2": {"field": "hi"},
 "color": {"field": "m", "type": "nominal", "title": null, "scale": {"domain": ["FedRolex","FedRolex+DENSE","FedRolex+FedFTG","FedRolex+DFRD"], "range": ["#ff0000","#ffa500","#800080","#228b22"]}, "legend": {"orient": "none", "legendX": 162, "legendY": 189, "symbolType": "M-1,0H4", "symbolSize": 174, "symbolStrokeWidth": 2, "symbolOpacity": 1, "symbolFillColor": "transparent", "labelFontSize": 15, "labelColor": "black", "fillColor": "rgba(255,255,255,0.8)", "strokeColor": "#cccccc", "cornerRadius": 4, "padding": 7, "labelOffset": 33, "rowPadding": 8}}
 }},
{"mark": {"type": "line", "strokeWidth": 2},
 "encoding": {
 "y": {"field": "v", "type": "quantitative"},
 "color": {"field": "m", "type": "nominal"}
 }}
]
},
{
"width": 339, "height": 291,
"data": {"name": "G"},
"encoding": {
"x": {"field": "r", "type": "quantitative", "scale": {"domain": [-28, 626], "nice": false, "zero": false}, "axis": {"values": [0,100,200,300,400,500,600], "title": "communication rounds"}}
},
"layer": [
{"mark": {"type": "area", "fillOpacity": 0.12},
 "encoding": {
 "y": {"field": "lo", "type": "quantitative", "scale": {"domain": [0.0038, 0.1131], "nice": false, "zero": false}, "axis": {"values": [0.02,0.04,0.06,0.08,0.10], "format": ".2f", "title": "G.acc"}},
 "y2": {"field": "hi"},
 "color": {"field": "m", "type": "nominal"}
 }},
{"mark": {"type": "line", "strokeWidth": 2},
 "encoding": {
 "y": {"field": "v", "type": "quantitative"},
 "color": {"field": "m", "type": "nominal"}
 }}
]
}
],
"config": {
"font": "DejaVu Sans",
"view": {"stroke": "black", "strokeWidth": 1},
"axis": {"grid": true, "gridColor": "#b0b0b0", "gridWidth": 1.2, "domain": false, "tickColor": "black", "tickSize": 4, "labelFontSize": 13, "labelColor": "black", "labelPadding": 3, "titleFontSize": 20, "titleFontWeight": "normal", "titleColor": "black", "labelFont": "DejaVu Sans", "titleFont": "DejaVu Sans"},
"axisX": {"titlePadding": 4},
"axisY": {"titlePadding": 8},
"legend": {"labelFont": "DejaVu Sans"}
}
}
